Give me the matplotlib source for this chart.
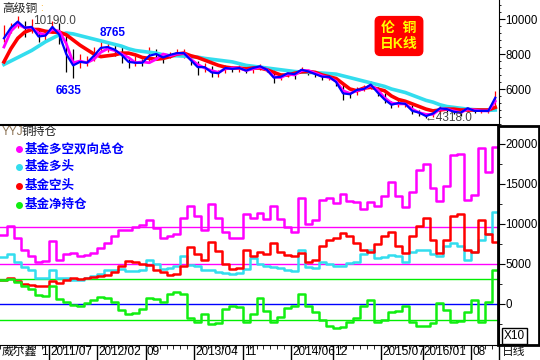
import numpy as np
import matplotlib
matplotlib.use('Agg')
import matplotlib.pyplot as plt
from matplotlib.patches import Rectangle
from matplotlib.lines import Line2D
from matplotlib.ticker import MultipleLocator

plt.rcParams['font.family'] = ['Liberation Sans', 'Noto Sans CJK SC', 'DejaVu Sans']

# 月份序号: 0 = 2010/12 ... 71 = 2016/11
tick_months = [7, 14, 21, 28, 35, 42, 48, 55, 61, 68]
tick_labels = ['2011/07', '2012/02', '09', '2013/04', '11', '2014/06', '12',
               '2015/07', '2016/01', '08']

# 上图: 伦铜日K线 (按月估读)
price_hi = [9650, 9800, 10190, 9900, 10000, 9500, 9400, 9900, 9800, 9200, 8300, 8000,
            7900, 8400, 8765, 8700, 8500, 8400, 7800, 7900, 7700, 8400, 8300, 7900,
            8100, 8300, 8300, 7900, 7600, 7500, 7300, 7100, 7400, 7300, 7400, 7200,
            7400, 7450, 7200, 7100, 6800, 7000, 7000, 7250, 7100, 7000, 6900, 6800,
            6600, 6300, 5850, 6100, 6250, 6450, 6100, 5800, 5300, 5400, 5400, 5100,
            4800, 4600, 4700, 5100, 5050, 4900, 4800, 5000, 4900, 4850, 4850, 5900]
price_lo = [8700, 9200, 9500, 9000, 9200, 8700, 8700, 9300, 8600, 7000, 6635, 7200,
            7300, 7600, 8200, 8100, 7900, 7500, 7200, 7300, 7300, 7500, 7800, 7500,
            7800, 7900, 7800, 7400, 6800, 7000, 6700, 6700, 6900, 7000, 7000, 6900,
            6900, 7100, 7000, 6350, 6500, 6700, 6600, 6900, 6800, 6700, 6500, 6500,
            6200, 5350, 5500, 5650, 5900, 6000, 5600, 5200, 4900, 4950, 5000, 4550,
            4450, 4318, 4400, 4600, 4700, 4600, 4450, 4750, 4650, 4650, 4650, 4800]
price_close = [9100, 9600, 9900, 9500, 9600, 8900, 9100, 9650, 9000, 7800, 7400, 7500,
               7500, 8000, 8450, 8450, 8250, 7950, 7450, 7550, 7500, 8100, 8050, 7700,
               8000, 8050, 8050, 7600, 7200, 7250, 6900, 6900, 7200, 7150, 7200, 7050,
               7200, 7300, 7100, 6650, 6700, 6900, 6850, 7100, 7000, 6850, 6700, 6700,
               6400, 5800, 5700, 5950, 6000, 6300, 5800, 5450, 5100, 5200, 5200, 4800,
               4650, 4500, 4600, 4950, 4850, 4700, 4650, 4900, 4750, 4750, 4750, 5600]
ma_blue = [8900, 9500, 9850, 9500, 9550, 9000, 9050, 9550, 9100, 8000, 7350, 7550,
           7500, 7900, 8350, 8400, 8250, 7950, 7550, 7500, 7500, 7900, 8000, 7800,
           7950, 8050, 8050, 7650, 7250, 7250, 6950, 6900, 7200, 7150, 7200, 7050,
           7200, 7300, 7100, 6650, 6700, 6900, 6850, 7100, 7000, 6850, 6700, 6700,
           6400, 5750, 5700, 5950, 6000, 6250, 5800, 5400, 5100, 5200, 5150, 4750,
           4650, 4450, 4600, 4900, 4850, 4700, 4650, 4900, 4750, 4750, 4750, 5500]
ma_magenta = [8400, 9300, 9700, 9500, 9500, 9200, 9100, 9400, 9300, 8600, 7500, 7600,
              7500, 7700, 8100, 8300, 8200, 8000, 7800, 7500, 7550, 7500, 7700, 8000,
              7900, 8000, 8050, 7700, 7400, 7200, 7050, 6950, 7150, 7200, 7200, 7050,
              7150, 7250, 7100, 6700, 6650, 6850, 6800, 7050, 7050, 6900, 6750, 6650,
              6450, 5900, 5750, 5900, 6000, 6200, 5950, 5500, 5200, 5150, 5150, 4850,
              4650, 4550, 4550, 4850, 4850, 4750, 4650, 4850, 4800, 4750, 4750, 5300]
ma_red = [7550, 8300, 8900, 9250, 9400, 9400, 9300, 9250, 9250, 9100, 8800, 8500,
          8250, 8000, 7850, 7900, 7950, 8050, 8050, 7950, 7800, 7750, 7700, 7750,
          7850, 8000, 8050, 7900, 7800, 7650, 7500, 7350, 7250, 7200, 7200, 7150,
          7200, 7200, 7100, 6950, 6800, 6800, 6900, 6980, 7000, 6950, 6800, 6700,
          6600, 6300, 6000, 5900, 6050, 6100, 6000, 5900, 5600, 5400, 5300, 5150,
          5000, 4850, 4750, 4800, 4850, 4850, 4800, 4800, 4800, 4800, 4800, 4950]
ma_cyan = [7400, 7600, 7800, 8000, 8200, 8450, 8700, 8900, 9100, 9200, 9150, 9050,
           8950, 8850, 8750, 8650, 8550, 8450, 8300, 8200, 8150, 8100, 8050, 7950,
           7900, 7900, 7880, 7850, 7820, 7750, 7700, 7650, 7600, 7550, 7450, 7350,
           7300, 7250, 7200, 7150, 7100, 7050, 7000, 6970, 6950, 6930, 6910, 6880,
           6850, 6750, 6650, 6550, 6450, 6350, 6250, 6150, 6000, 5900, 5800, 5650,
           5500, 5350, 5250, 5100, 5000, 4950, 4900, 4850, 4820, 4800, 4780, 4800]

# 下图: 基金持仓 (手)
total_pos = [8600, 9700, 8200, 6800, 6000, 5300, 5400, 7900, 5500, 6300, 6400, 6000,
             6100, 6400, 7000, 7600, 8500, 9300, 9200, 9600, 9900, 10500, 9500, 8300,
             8500, 8700, 10700, 12200, 11000, 9300, 12500, 10800, 9000, 8200, 8200, 11300,
             10800, 11400, 10600, 12300, 10600, 9600, 9000, 13200, 10000, 10500, 13000, 13300,
             12600, 13700, 12900, 12700, 11900, 12800, 12200, 13500, 15300, 13500, 12100, 14000,
             16700, 17500, 14500, 12900, 14800, 18600, 18800, 13000, 13600, 19500, 16500, 19600]
long_pos = [5900, 6200, 5300, 4600, 4200, 3300, 3300, 4300, 3300, 3200, 3000, 3000,
            3200, 3500, 3800, 4200, 4200, 4400, 4100, 4100, 4200, 5500, 5000, 4400,
            4500, 4700, 6000, 4900, 4700, 4300, 4200, 4000, 3900, 3800, 3900, 4400,
            5800, 5000, 4700, 4600, 4500, 4200, 4100, 6800, 4600, 4500, 5200, 5000,
            4800, 4700, 5100, 5300, 6300, 6800, 5800, 5900, 6100, 6000, 5300, 6500,
            6800, 6700, 6200, 6000, 7200, 7600, 7300, 5500, 6500, 8000, 8800, 11500]
short_pos = [3000, 3300, 2900, 2500, 2400, 2300, 2200, 2900, 2600, 3000, 3200, 3100,
             3200, 3400, 3500, 3600, 4000, 4700, 5400, 5300, 5000, 4900, 4300, 4000,
             3600, 3800, 4800, 7100, 6300, 5500, 7700, 6600, 5000, 4400, 4500, 6800,
             6000, 6500, 6300, 7600, 6500, 6100, 6000, 6400, 5200, 5500, 7300, 8000,
             8300, 8900, 8500, 7600, 6700, 6500, 7500, 8500, 9000, 7300, 6400, 8500,
             9700, 10700, 8000, 6400, 8000, 11000, 11300, 6700, 6500, 10500, 8800, 7700]
net_pos = [3000, 3100, 2700, 2300, 1900, 1100, 1000, 2200, 600, 300, -100, -200,
           100, 500, 900, 700, 200, -800, -1300, -1100, -600, 700, 600, 200,
           1200, 1500, 1200, -1800, -2300, -1300, -2500, -2400, -600, -300, -400, -2300,
           -1200, 800, -900, -2300, -1600, -500, -300, 1300, -200, -1000, -2000, -2700,
           -3000, -2900, -2300, -1800, -300, 500, -2200, -2000, -1000, -900, -300, -2300,
           -2800, -2800, -2400, 100, -800, -2300, -2100, -1000, 500, -2300, 200, 4200]

ref_magenta = [9600, 5000]
ref_green = [3125, -2000]


def px(x, y):
    return x / 540, 1 - y / 360


fig = plt.figure(figsize=(5.4, 3.6), dpi=100)
fig.patch.set_facecolor('white')

months = np.arange(len(price_close)) + 0.5
xlim = (-0.07, 72.04)

# ---- 上图 ----
ax1 = fig.add_axes([0, 1 - 125 / 360, 499 / 540, 125 / 360])
ax1.set_xlim(*xlim)
ax1.set_ylim(3943, 11086)
for s in ['left', 'top', 'bottom']:
    ax1.spines[s].set_visible(False)
ax1.set_xticks([])
ax1.yaxis.tick_right()
ax1.set_yticks([6000, 8000, 10000])
ax1.yaxis.set_minor_locator(MultipleLocator(400))
ax1.tick_params(axis='y', which='major', direction='out', length=4, pad=0.5, labelsize=8.3)
ax1.tick_params(axis='y', which='minor', direction='out', length=1.5)

up = [c >= p for c, p in zip(price_close, [price_close[0]] + price_close[:-1])]
ax1.vlines(months, price_lo, price_hi, colors=['red' if u else 'black' for u in up], lw=0.9)
ax1.plot(months, ma_cyan, color='#33ddee', lw=2.6)
ax1.plot(months, ma_red, color='red', lw=2.6)
ax1.plot(months, ma_magenta, color='#ff00ff', lw=2.0)
ax1.plot(months, ma_blue, color='blue', lw=1.6)

fig.text(*px(2, 9), '高级铜', fontsize=8.5, color='#222222', va='center')
fig.text(*px(40, 8), ':', fontsize=7, color='orange', va='center')
fig.text(*px(33, 21), '10190.0', fontsize=8.5, color='#444444', va='center')
fig.text(*px(100, 33), '8765', fontsize=8.5, color='blue', weight='bold', va='center')
fig.text(*px(56, 91), '6635', fontsize=8.5, color='blue', weight='bold', va='center')
fig.text(*px(425, 118), '←4318.0', fontsize=8.5, color='#444444', va='center')
fig.text(*px(399, 36), '伦  铜\n日K线', fontsize=10, color='yellow', weight='bold',
         ha='center', va='center', linespacing=1.1,
         bbox=dict(boxstyle='round,pad=0.35', fc='red', ec='red'))

# ---- 下图 ----
ax2 = fig.add_axes([0, 1 - 345 / 360, 499 / 540, 220 / 360])
ax2.set_xlim(*xlim)
ax2.set_ylim(-5125, 22375)
ax2.spines['left'].set_visible(False)
ax2.spines['top'].set_linewidth(1.5)
ax2.yaxis.tick_right()
ax2.set_yticks([0, 5000, 10000, 15000, 20000])
ax2.yaxis.set_minor_locator(MultipleLocator(2500))
ax2.tick_params(axis='y', which='major', direction='out', length=4, pad=0.5, labelsize=8.3)
ax2.tick_params(axis='y', which='minor', direction='out', length=2)
ax2.set_xticks(tick_months)
ax2.set_xticklabels([])
ax2.xaxis.set_minor_locator(MultipleLocator(1))
ax2.tick_params(axis='x', which='major', direction='out', length=16, width=1)
ax2.tick_params(axis='x', which='minor', direction='out', length=3)
for m, lab in zip(tick_months, tick_labels):
    ax2.text(m + 0.15, -0.033, lab, transform=ax2.get_xaxis_transform(),
             fontsize=8.5, ha='left', va='center')
ax2.text(5.9, -0.033, '1', transform=ax2.get_xaxis_transform(), fontsize=8.5,
         ha='left', va='center')

for v in ref_magenta:
    ax2.axhline(v, color='#ff00ff', lw=1)
for v in ref_green:
    ax2.axhline(v, color='#00ee00', lw=1)
ax2.axhline(0, color='blue', lw=1)

steps = np.arange(len(total_pos) + 1)
for vals, col in [(total_pos, '#ff00ff'), (long_pos, '#33ddee'),
                  (short_pos, 'red'), (net_pos, '#11ee11')]:
    ax2.step(steps, list(vals) + [vals[-1]], where='post', color=col, lw=1.8)

fig.text(*px(2, 132), 'YYJ', fontsize=8.5, color='#8c7355', va='center')
fig.text(*px(22, 132), '铜持仓', fontsize=8.5, color='#222222', va='center')
legend_items = [('基金多空双向总仓', '#ff00ff', 149), ('基金多头', '#33ddee', 167),
                ('基金空头', 'red', 186), ('基金净持仓', '#11ee11', 205)]
for lab, col, y in legend_items:
    fig.add_artist(Line2D([19 / 540], [1 - y / 360], marker='o', ms=4, color=col,
                          transform=fig.transFigure))
    fig.text(*px(25, y), lab, fontsize=9, color='blue', weight='bold', va='center')

fig.text(*px(2, 352), '威尔鑫', fontsize=8.5, color='#111111', va='center')
fig.text(*px(502, 352), '日线', fontsize=8.5, color='#111111', va='center')
fig.add_artist(Line2D([498.5 / 540, 498.5 / 540], [0, 1 - 345 / 360], color='black',
                      lw=1, transform=fig.transFigure))
fig.add_artist(Rectangle((497.5 / 540, 1 - 344.5 / 360), 41 / 540, 219 / 360,
                         transform=fig.transFigure, fill=False, lw=2, ec='black'))
fig.text(*px(504, 336), 'X10', fontsize=8.5, va='center',
         bbox=dict(boxstyle='square,pad=0.15', fc='white', ec='black', lw=1))

fig.savefig('out.png', dpi=100)
